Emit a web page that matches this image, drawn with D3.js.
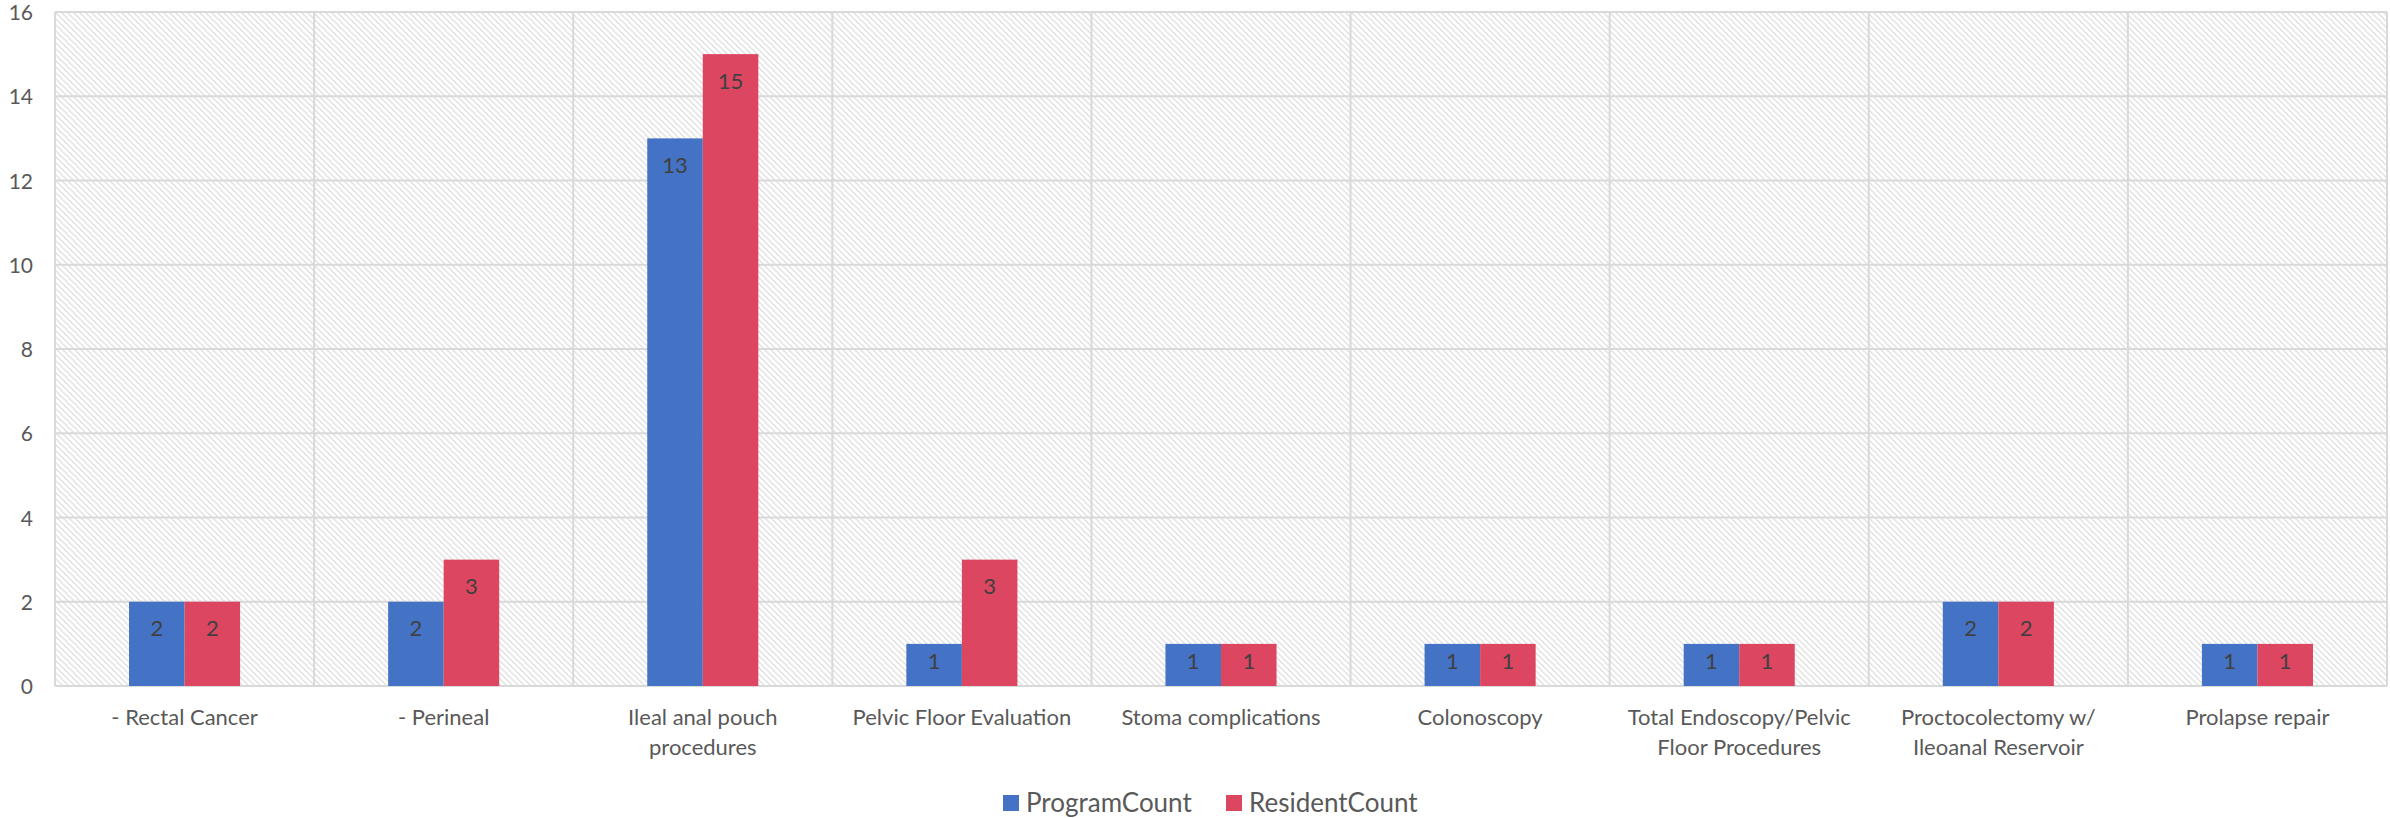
<!DOCTYPE html>
<html>
<head>
<meta charset="utf-8">
<script src="https://cdn.jsdelivr.net/npm/d3@7"></script>
<style>
  html, body { margin: 0; padding: 0; background: #fff; }
  svg { display: block; }
  text { font-family: Lato, "Open Sans", sans-serif; }
</style>
</head>
<body>
<svg id="chart" width="2390" height="818"></svg>
<script>
// Procedure categories (label lines separated by \n)
const categories = [
  "- Rectal Cancer",
  "- Perineal",
  "Ileal anal pouch\nprocedures",
  "Pelvic Floor Evaluation",
  "Stoma complications",
  "Colonoscopy",
  "Total Endoscopy/Pelvic\nFloor Procedures",
  "Proctocolectomy w/\nIleoanal Reservoir",
  "Prolapse repair"
];
const seriesNames = ["ProgramCount", "ResidentCount"];
const programCount = [2, 2, 13, 1, 1, 1, 1, 2, 1];
const residentCount = [2, 3, 15, 3, 1, 1, 1, 2, 1];
const yTicks = [0, 2, 4, 6, 8, 10, 12, 14, 16];
const seriesColors = ["#4472C4", "#DC4661"];

const W = 2390, H = 818;
const margin = { top: 12, right: 3, bottom: 132, left: 55 };
const iw = W - margin.left - margin.right;
const ih = H - margin.top - margin.bottom;

const svg = d3.select("#chart");

// diagonal hatch used as the plot-area fill
const defs = svg.append("defs");
const pat = defs.append("pattern")
  .attr("id", "hatch")
  .attr("patternUnits", "userSpaceOnUse")
  .attr("width", 6).attr("height", 6);
pat.append("rect").attr("width", 6).attr("height", 6).attr("fill", "#fff");
pat.append("path")
  .attr("d", "M-1,-1 L7,7 M-1,5 L1,7 M5,-1 L7,1")
  .attr("stroke", "#e0e0e0")
  .attr("stroke-width", 1.3);

const g = svg.append("g").attr("transform", `translate(${margin.left},${margin.top})`);

const x = d3.scaleBand().domain(categories).range([0, iw]).paddingInner(0).paddingOuter(0);
const xs = d3.scaleBand().domain(seriesNames).range([0, x.bandwidth()])
  .paddingInner(0).paddingOuter(1.333);
const y = d3.scaleLinear().domain([0, 16]).range([ih, 0]);

g.append("rect").attr("width", iw).attr("height", ih).attr("fill", "url(#hatch)");

// horizontal gridlines
g.append("g").selectAll("line").data(yTicks).join("line")
  .attr("x1", 0).attr("x2", iw)
  .attr("y1", d => y(d)).attr("y2", d => y(d))
  .attr("stroke", "#d9d9d9").attr("stroke-width", 2);

// vertical gridlines at category boundaries
const bounds = categories.map(c => x(c)).concat([iw]);
g.append("g").selectAll("line").data(bounds).join("line")
  .attr("x1", d => d).attr("x2", d => d)
  .attr("y1", 0).attr("y2", ih)
  .attr("stroke", "#d9d9d9").attr("stroke-width", 2);

// y axis labels
const yAxis = d3.axisLeft(y).tickValues(yTicks).tickSize(0).tickPadding(22);
const ya = g.append("g").call(yAxis);
ya.select(".domain").remove();
ya.selectAll("text")
  .attr("font-size", 21).attr("fill", "#595959")
  .attr("dy", "0.36em")
  .style("font-family", "Lato, 'Open Sans', sans-serif");

// x axis labels
const xAxis = d3.axisBottom(x).tickSize(0).tickFormat("");
const xa = g.append("g").attr("transform", `translate(0,${ih})`).call(xAxis);
xa.select(".domain").remove();
xa.selectAll(".tick").each(function(d) {
  const t = d3.select(this).append("text")
    .attr("text-anchor", "middle")
    .attr("font-size", 22).attr("fill", "#595959");
  d.split("\n").forEach((line, i) => {
    t.append("tspan").attr("x", 0).attr("y", 39 + i * 30).text(line);
  });
});

// bars
const rows = categories.map((c, i) => ({ cat: c, vals: [programCount[i], residentCount[i]] }));
const groups = g.append("g").selectAll("g").data(rows).join("g")
  .attr("transform", d => `translate(${x(d.cat)},0)`);

groups.selectAll("rect").data(d => d.vals.map((v, k) => ({ key: seriesNames[k], v, k })))
  .join("rect")
  .attr("x", d => xs(d.key))
  .attr("width", xs.bandwidth())
  .attr("y", d => y(d.v))
  .attr("height", d => ih - y(d.v))
  .attr("fill", d => seriesColors[d.k]);

// value labels inside bar ends
groups.selectAll("text.val").data(d => d.vals.map((v, k) => ({ key: seriesNames[k], v, k })))
  .join("text")
  .attr("class", "val")
  .attr("x", d => xs(d.key) + xs.bandwidth() / 2)
  .attr("y", d => y(d.v) + Math.min(27, (ih - y(d.v)) - 25))
  .attr("dy", "0.35em")
  .attr("text-anchor", "middle")
  .attr("font-size", 22)
  .attr("fill", "#404040")
  .text(d => d.v);

// legend
const legend = svg.append("g").attr("transform", "translate(0,803)");
const items = [{ name: seriesNames[0], x: 1003 }, { name: seriesNames[1], x: 1226 }];
items.forEach((it, k) => {
  legend.append("rect").attr("x", it.x).attr("y", -8).attr("width", 16).attr("height", 16)
    .attr("fill", seriesColors[k]);
  legend.append("text").attr("x", it.x + 23).attr("y", 0).attr("dy", "0.35em")
    .attr("font-size", 26).attr("fill", "#595959").text(it.name);
});
</script>
</body>
</html>
